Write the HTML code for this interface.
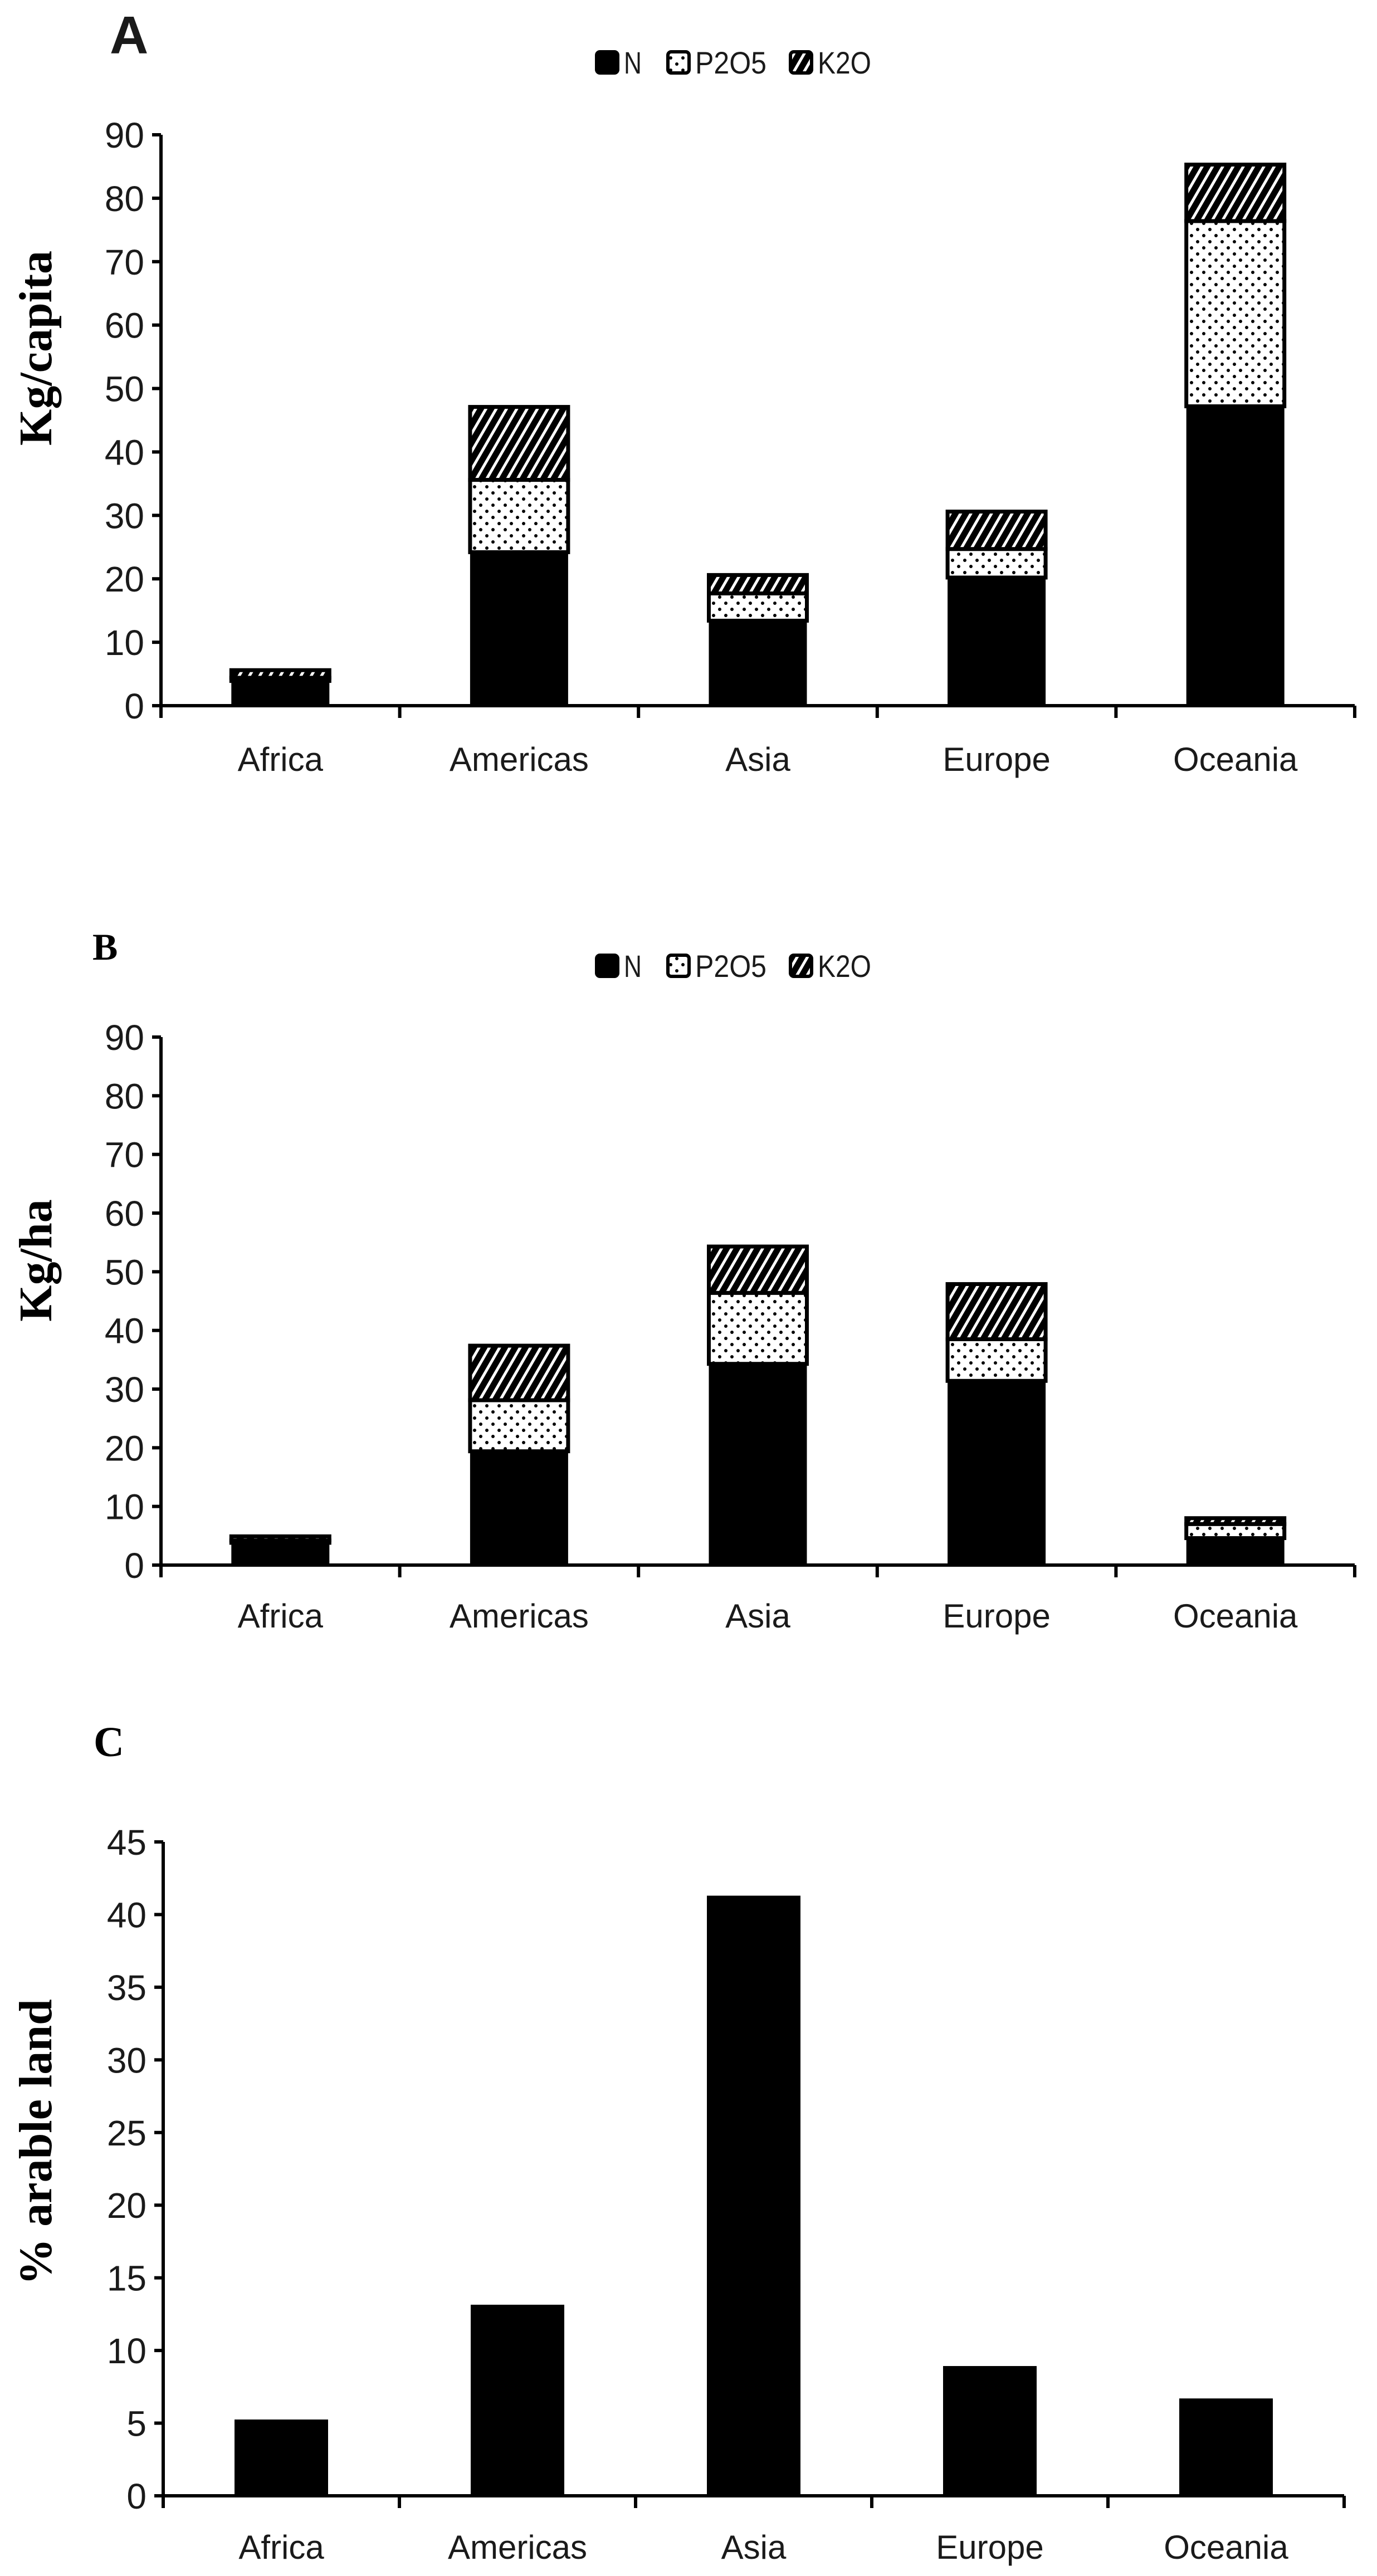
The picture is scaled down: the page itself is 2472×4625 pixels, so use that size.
<!DOCTYPE html>
<html><head><meta charset="utf-8">
<style>
html,body{margin:0;padding:0;background:#fff;}
svg{display:block;}
text{font-family:"Liberation Sans",sans-serif;fill:#1a1a1a;}
.serif{font-family:"Liberation Serif",serif;font-weight:bold;fill:#000;}
</style></head>
<body>
<svg id="fig" width="2472" height="4625" viewBox="0 0 2472 4625" xmlns="http://www.w3.org/2000/svg">
<defs>
<pattern id="dots" patternUnits="userSpaceOnUse" width="22" height="22">
<rect width="22" height="22" fill="#fff"/>
<circle cx="5" cy="5" r="3" fill="#000"/>
<circle cx="16" cy="16" r="3" fill="#000"/>
</pattern>
<pattern id="hatch" patternUnits="userSpaceOnUse" width="16" height="16" patternTransform="rotate(30)">
<rect width="16" height="16" fill="#000"/>
<rect x="0" y="0" width="5" height="16" fill="#fff"/>
</pattern>
</defs>
<g id="root"></g>
</svg>
<script>
const categories = ["Africa","Americas","Asia","Europe","Oceania"];
const seriesNames = ["N","P2O5","K2O"];
const kgCapitaN = [3.9, 24.2, 13.4, 20.2, 47.2];
const kgCapitaP = [0.5, 11.4, 4.3, 4.5, 29.2];
const kgCapitaK = [1.2, 11.5, 2.9, 5.9, 8.9];
const kgHaN = [3.8, 19.4, 34.3, 31.4, 4.6];
const kgHaP = [0.4, 8.7, 12.1, 7.1, 2.4];
const kgHaK = [0.7, 9.3, 7.9, 9.4, 1.0];
const arableLand = [5.25, 13.15, 41.3, 8.93, 6.7];
const ticksAB = [0,10,20,30,40,50,60,70,80,90];
const ticksC = [0,5,10,15,20,25,30,35,40,45];

const NS = "http://www.w3.org/2000/svg";
const root = document.getElementById('root');
function mk(tag, attrs, parent){
  const e = document.createElementNS(NS, tag);
  for (const k in attrs) e.setAttribute(k, attrs[k]);
  (parent||root).appendChild(e);
  return e;
}
const fills = ["#000","url(#dots)","url(#hatch)"];

function chart(cfg){
  const g = mk('g', {});
  
  
  const x0 = cfg.x0, x1 = cfg.x1, y0 = cfg.y0, yTop = cfg.yTop, max = cfg.max;
  const sy = v => y0 - (v / max) * (y0 - yTop);
  const bw = (x1 - x0) / categories.length;
  const bx = i => x0 + bw * i + bw / 2;

  const L = mk('text', {x: cfg.letterX, y: cfg.letterY, 'font-size': cfg.letterSize, 'class': cfg.letterSerif ? 'serif' : ''}, g);
  if (!cfg.letterSerif) { L.setAttribute('font-weight', 'bold'); L.setAttribute('fill', '#000'); }
  L.textContent = cfg.letter;
  
  

  if (cfg.legendY) {
    const lg = mk('g', {}, g);
    
    
    const xs = [1068, 1196, 1416];
    seriesNames.forEach((s, i) => {
      const r = mk('rect', {x: xs[i]+3, y: cfg.legendY - 19, width: 38, height: 38, rx: 6, fill: fills[i], stroke: '#000', 'stroke-width': 6}, lg);
      
      
      const t = mk('text', {x: xs[i] + 52, y: cfg.legendY + 20, 'font-size': 56, textLength: s.length * 32, lengthAdjust: 'spacingAndGlyphs'}, lg);
      t.textContent = s;
      
      
    });
  }

  const yt = mk('text', {x: 0, y: 0, 'class': 'serif', 'font-size': cfg.ytSize, 'text-anchor': 'middle', transform: `translate(${cfg.ytX},${cfg.ytY}) rotate(-90)`}, g);
  yt.textContent = cfg.ytitle;
  
  

  cfg.series.forEach((arr, si) => {
    categories.forEach((c, i) => {
      let base = 0;
      for (let k = 0; k < si; k++) base += cfg.series[k][i];
      const top = base + arr[i];
      const r = mk('rect', {x: bx(i) - cfg.barW/2, y: sy(top), width: cfg.barW, height: sy(base) - sy(top), fill: fills[si], stroke: '#000', 'stroke-width': si === 0 ? 0 : 7}, g);
      
      
    });
  });

  const ax = mk('path', {d: `M${x0},${yTop} L${x0},${y0} L${x1},${y0}`, fill: 'none', stroke: '#000', 'stroke-width': 6}, g);
  
  
  cfg.ticks.forEach(v => {
    mk('line', {x1: x0 - 16, x2: x0, y1: sy(v), y2: sy(v), stroke: '#000', 'stroke-width': 6}, g);
    const t = mk('text', {x: x0 - 30, y: sy(v) + 23, 'font-size': 64, 'text-anchor': 'end'}, g);
    t.textContent = v;
    
    
  });
  for (let i = 0; i <= categories.length; i++) {
    mk('line', {x1: x0 + bw*i, x2: x0 + bw*i, y1: y0, y2: y0 + 22, stroke: '#000', 'stroke-width': 6}, g);
  }
  categories.forEach((c, i) => {
    const t = mk('text', {x: bx(i), y: cfg.labelY + 22, 'font-size': 60, 'text-anchor': 'middle'}, g);
    t.textContent = c;
    
    
  });
}

chart({name:'chart-a-kg-per-capita', letter:'A', letterSerif:false, letterX:197, letterY:96, letterSize:96,
  legendY:112, ytitle:'Kg/capita', ytX:92, ytY:625, ytSize:84,
  x0:289, x1:2432, y0:1267, yTop:242, max:90, ticks:ticksAB, barW:176, labelY:1362,
  series:[kgCapitaN, kgCapitaP, kgCapitaK]});
chart({name:'chart-b-kg-per-ha', letter:'B', letterSerif:true, letterX:166, letterY:1723, letterSize:68,
  legendY:1734, ytitle:'Kg/ha', ytX:92, ytY:2263, ytSize:84,
  x0:289, x1:2432, y0:2810, yTop:1862, max:90, ticks:ticksAB, barW:176, labelY:2900,
  series:[kgHaN, kgHaP, kgHaK]});
chart({name:'chart-c-arable-land', letter:'C', letterSerif:true, letterX:168, letterY:3153, letterSize:76,
  legendY:0, ytitle:'% arable land', ytX:92, ytY:3846, ytSize:84,
  x0:293, x1:2413, y0:4481, yTop:3307, max:45, ticks:ticksC, barW:168, labelY:4572,
  series:[arableLand]});
</script>
</body></html>
